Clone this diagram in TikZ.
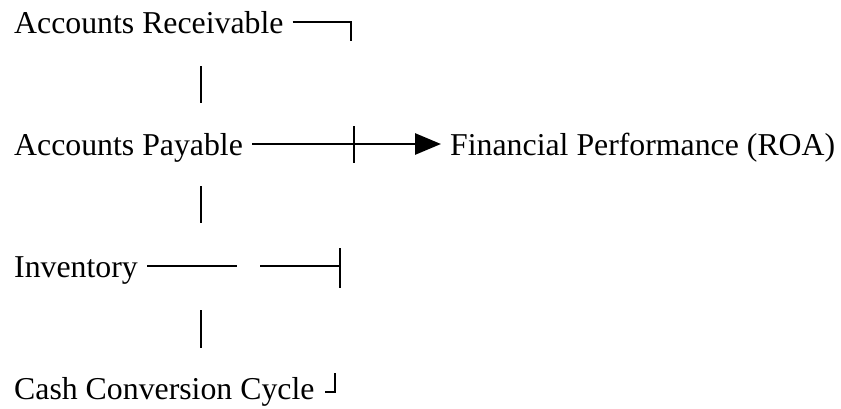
\documentclass[tikz,border=0pt]{standalone}
\usepackage{fontspec}
\setmainfont{Liberation Serif}
\usetikzlibrary{arrows.meta,positioning}

\begin{document}
\begin{tikzpicture}[
    x=1pt, y=-1pt,
    factor/.style={
        anchor=west,
        inner xsep=9pt,
        inner ysep=0pt,
        text height=22pt,
        text depth=0pt,
        font=\fontsize{31.8}{36}\selectfont
    },
    link/.style={
        line width=2.8pt
    },
    arrow/.style={
        link,
        -{Triangle[length=26pt,width=21pt]}
    }
]
\useasboundingbox (0,0) rectangle (841,408);

% Variables
\node[factor] (ar) at (5,22) {Accounts Receivable};
\node[factor] (ap) at (5,144) {Accounts Payable};
\node[factor] (inv) at (5,266) {Inventory};
\node[factor] (ccc) at (5,388) {Cash Conversion Cycle};
\node[factor] (roa) at (441,144) {Financial Performance (ROA)};

% Free ends
\coordinate (arend) at (351,41);
\coordinate (join1) at (354,126);
\coordinate (join2) at (354,163);
\coordinate (invgap) at (237,266);
\coordinate (invres) at (260,266);
\coordinate (invend) at (340,266);
\coordinate (join3) at (340,248);
\coordinate (join4) at (340,288);
\coordinate (cccup) at (335,373);
\coordinate (cccend) at (325,392);
\coordinate (bar1t) at (201,66);
\coordinate (bar1b) at (201,103);
\coordinate (bar2t) at (201,186);
\coordinate (bar2b) at (201,223);
\coordinate (bar3t) at (201,310);
\coordinate (bar3b) at (201,348);

% Arrows
\draw[link] (ar.east) -| (arend);
\draw[arrow] (ap.east) -- (roa.west);
\draw[link] (join1) -- (join2);
\draw[link] (inv.east) -- (invgap);
\draw[link] (invres) -- (invend);
\draw[link] (join3) -- (join4);
\draw[link] (cccup) |- (cccend);
\draw[link] (bar1t) -- (bar1b);
\draw[link] (bar2t) -- (bar2b);
\draw[link] (bar3t) -- (bar3b);

\end{tikzpicture}
\end{document}
